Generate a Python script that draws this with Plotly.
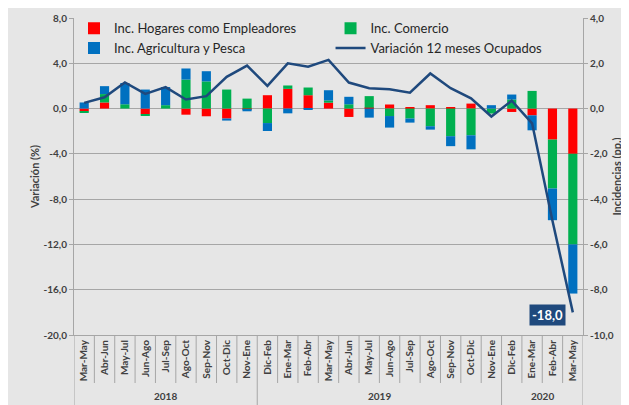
import plotly.graph_objects as go

# ---------------- data ----------------
meses = ["Mar-May", "Abr-Jun", "May-Jul", "Jun-Ago", "Jul-Sep", "Ago-Oct", "Sep-Nov", "Oct-Dic", "Nov-Ene",
         "Dic-Feb", "Ene-Mar", "Feb-Abr", "Mar-May", "Abr-Jun", "May-Jul", "Jun-Ago", "Jul-Sep", "Ago-Oct",
         "Sep-Nov", "Oct-Dic", "Nov-Ene",
         "Dic-Feb", "Ene-Mar", "Feb-Abr", "Mar-May"]
anios = ["2018", "2019", "2020"]
meses_por_anio = [9, 12, 4]

hogares = [-0.12, 0.27, 0.0, -0.25, 0.0, -0.27, -0.34, -0.44, -0.04,
           0.59, 0.87, 0.59, 0.26, -0.37, 0.04, 0.18, 0.07, 0.15, 0.03, 0.22, 0.0,
           -0.15, -0.30, -1.37, -2.0]
comercio = [-0.07, 0.37, 0.19, -0.06, 0.15, 1.28, 1.20, 0.84, 0.44,
            -0.64, 0.15, 0.34, 0.10, 0.19, 0.51, -0.33, -0.44, -0.78, -1.22, -1.18, -0.22,
            0.40, 0.78, -2.16, -4.0]
agricultura = [0.27, 0.35, 0.94, 0.84, 0.80, 0.49, 0.45, -0.09, -0.08,
               -0.35, -0.21, -0.03, 0.45, 0.33, -0.40, -0.51, -0.18, -0.15, -0.44, -0.62, 0.15,
               0.22, -0.66, -1.40, -2.17]
variacion = [0.5, 1.0, 2.3, 1.3, 1.9, 0.8, 1.1, 2.8, 3.8,
             2.0, 4.0, 3.7, 4.3, 2.3, 1.8, 1.7, 1.4, 3.1, 1.8, 0.9, -0.7,
             0.7, -1.3, -9.9, -18.0]

ticks_pct = [8, 4, 0, -4, -8, -12, -16, -20]
ticks_pp = [4, 2, 0, -2, -4, -6, -8, -10]

# ---------------- figure ----------------
def fmt(v):
    return f"{v:.1f}".replace(".", ",")

n = len(meses)
xs = list(range(n))
GRAY = "#A6A6A6"
TXT = "#404040"
FONT = "Lato"

fig = go.Figure()
fig.add_trace(go.Bar(x=xs, y=hogares, name="Inc. Hogares como Empleadores",
                     marker=dict(color="#FF0000", line=dict(width=0)), width=0.45, yaxis="y"))
fig.add_trace(go.Bar(x=xs, y=comercio, name="Inc. Comercio",
                     marker=dict(color="#00B050", line=dict(width=0)), width=0.45, yaxis="y"))
fig.add_trace(go.Bar(x=xs, y=agricultura, name="Inc. Agricultura y Pesca",
                     marker=dict(color="#0070C0", line=dict(width=0)), width=0.45, yaxis="y"))
fig.add_trace(go.Scatter(x=xs, y=variacion, name="Variación 12 meses Ocupados", mode="lines",
                         line=dict(color="#1F497D", width=2.5), yaxis="y2"))

# page has an 8px body offset; figure is sized so the plot lands where the reference's does
W, H = 621, 397
ML, MR, MT, MB = 66, 46, 10, 70
plot_h = H - MT - MB

shapes = []
bounds = []
acc = 0
for c in meses_por_anio:
    acc += c
    bounds.append(acc)
for i in range(0, n + 1):
    is_year = (i == 0) or (i in bounds)
    shapes.append(dict(type="line", xref="x", yref="paper",
                       x0=i - 0.5, x1=i - 0.5, y0=0,
                       y1=-(70 if is_year else 48) / plot_h,
                       line=dict(color=GRAY, width=1)))

annotations = []
start = 0
for lab, c in zip(anios, meses_por_anio):
    annotations.append(dict(x=start + (c - 1) / 2, y=-61 / plot_h, xref="x", yref="paper",
                            text=lab, showarrow=False, yanchor="middle",
                            font=dict(family=FONT, size=10, color=TXT, weight="bold")))
    start += c

annotations.append(dict(x=xs[-1], y=variacion[-1], xref="x", yref="y2",
                        text=fmt(variacion[-1]), showarrow=False,
                        xanchor="right", yanchor="middle", xshift=-7, yshift=-3,
                        bgcolor="#1F497D", borderpad=2,
                        font=dict(family=FONT, size=13, color="white", weight="bold")))

fig.update_layout(
    width=W, height=H,
    margin=dict(l=ML, r=MR, t=MT, b=MB, autoexpand=False),
    paper_bgcolor="#E6E6E6", plot_bgcolor="#E6E6E6",
    barmode="relative",
    font=dict(family=FONT, color=TXT),
    showlegend=True,
    legend=dict(orientation="h", x=0, xanchor="left", y=1.015, yanchor="top",
                entrywidthmode="fraction", entrywidth=0.504, traceorder="normal",
                bgcolor="rgba(0,0,0,0)", font=dict(family=FONT, size=13, color="#262626"),
                itemwidth=30, tracegroupgap=0),
    xaxis=dict(range=[-0.5, n - 0.5], tickvals=xs, ticktext=meses, tickangle=-90,
               tickfont=dict(family=FONT, size=10, color=TXT, weight="bold"),
               showline=True, linecolor=GRAY, linewidth=1, showgrid=False, zeroline=False,
               ticks=""),
    yaxis=dict(side="right", range=[-10, 4], tickvals=ticks_pp, ticktext=[fmt(v) for v in ticks_pp],
               showgrid=True, gridcolor=GRAY, gridwidth=1, zeroline=False,
               showline=True, linecolor=GRAY, ticks="outside", ticklen=4, tickcolor=GRAY,
               tickfont=dict(family=FONT, size=10, color=TXT, weight="bold"),
               title=dict(text="Incidencias (pp.)", standoff=0,
                          font=dict(family=FONT, size=11, color=TXT, weight="bold"))),
    yaxis2=dict(overlaying="y", side="left", range=[-20, 8], tickvals=ticks_pct,
                ticktext=[fmt(v) for v in ticks_pct],
                showgrid=False, zeroline=False,
                showline=True, linecolor=GRAY, ticks="outside", ticklen=4, tickcolor=GRAY,
                tickfont=dict(family=FONT, size=10, color=TXT, weight="bold"),
                title=dict(text="Variación (%)", standoff=1,
                           font=dict(family=FONT, size=11, color=TXT, weight="bold"))),
    shapes=shapes,
    annotations=annotations,
)

fig.write_html("out.html")
